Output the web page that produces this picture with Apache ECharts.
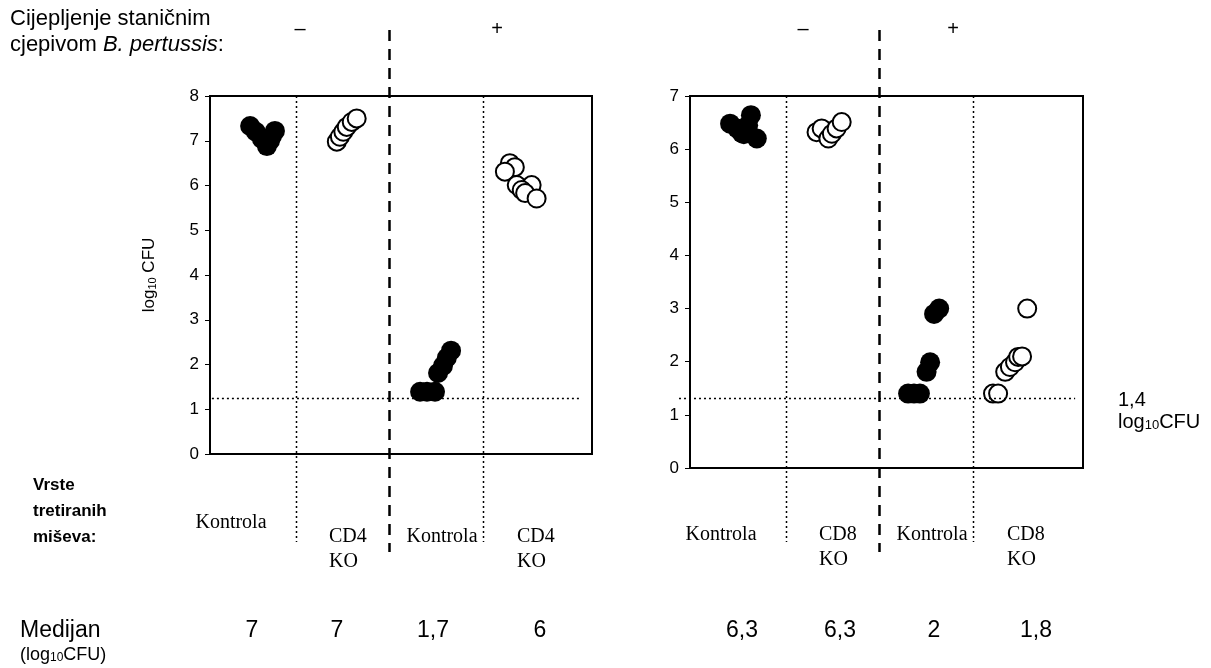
<!DOCTYPE html>
<html lang="hr">
<head>
<meta charset="UTF-8">
<title>log10 CFU</title>
<script src="https://cdn.jsdelivr.net/npm/echarts@6/dist/echarts.min.js"></script>
<style>
    html, body { margin: 0; padding: 0; background: #fff; }
    #chart { width: 1211px; height: 668px; }
</style>
</head>
<body>
<div id="chart"></div>
<script type="text/javascript">
    // x = position across the panel (0-100), y = log10 CFU
    var cd4KontrolaNeg = [[10.5, 7.33], [12.0, 7.20], [13.6, 7.04], [14.9, 6.88], [15.7, 7.0], [17.0, 7.22], [16.2, 7.1]];
    var cd4KoNeg = [[33.2, 6.98], [34.0, 7.09], [34.9, 7.2], [35.8, 7.31], [37.1, 7.42], [38.4, 7.5]];
    var cd4KontrolaPos = [[55.0, 1.39], [56.8, 1.39], [58.9, 1.39], [59.7, 1.81], [61.0, 1.97], [62.0, 2.15], [63.1, 2.31]];
    var cd4KoPos = [[78.5, 6.5], [79.8, 6.41], [77.2, 6.31], [80.3, 6.01], [84.2, 6.01], [81.6, 5.9], [82.5, 5.83], [85.5, 5.71]];

    var cd8KontrolaNeg = [[10.2, 6.48], [12.0, 6.39], [13.7, 6.28], [15.5, 6.64], [14.8, 6.45], [17.0, 6.2], [13.2, 6.3]];
    var cd8KoNeg = [[32.2, 6.32], [33.5, 6.39], [35.2, 6.2], [36.1, 6.29], [37.3, 6.39], [38.6, 6.51]];
    var cd8KontrolaPos = [[55.5, 1.4], [57.0, 1.4], [58.5, 1.4], [60.2, 1.81], [61.1, 1.99], [62.1, 2.9], [63.4, 3.0]];
    var cd8KoPos = [[77.1, 1.4], [78.4, 1.4], [80.2, 1.81], [81.4, 1.9], [82.7, 1.99], [83.5, 2.09], [84.5, 2.1], [85.8, 3.0]];

    var detectLimit = [1.26, 1.32];
    var yMax = [8, 7];
    var groupsLeft = ['Kontrola', 'CD4\nKO', 'Kontrola', 'CD4\nKO'];
    var groupsRight = ['Kontrola', 'CD8\nKO', 'Kontrola', 'CD8\nKO'];
    var medians = ['7', '7', '1,7', '6', '6,3', '6,3', '2', '1,8'];
    var vaccine = ['\u2013', '+', '\u2013', '+'];

    // layout
    var dividers = [[22.5, 46.9, 71.5], [24.4, 48.1, 72.0]];
    var sans = 'Liberation Sans, Arial, sans-serif';
    var serif = 'Liberation Serif, Times New Roman, serif';

    var chart = echarts.init(document.getElementById('chart'));

    function filled(data, idx) {
        return {
            type: 'scatter', xAxisIndex: idx, yAxisIndex: idx, data: data,
            symbolSize: 20, itemStyle: { color: '#000', opacity: 1 }
        };
    }
    function open(data, idx) {
        return {
            type: 'scatter', xAxisIndex: idx, yAxisIndex: idx, data: data,
            symbolSize: 18, itemStyle: { color: '#fff', borderColor: '#000', borderWidth: 2, opacity: 1 }
        };
    }
    function yAxis(idx) {
        return {
            type: 'value', gridIndex: idx, min: 0, max: yMax[idx], interval: 1,
            axisLine: { show: true, lineStyle: { color: '#000', width: 2 } },
            axisTick: { show: true, length: 5, lineStyle: { color: '#000', width: 1 } },
            axisLabel: { color: '#000', fontSize: 17, fontFamily: sans, margin: 11 },
            splitLine: { show: false },
            name: idx === 0 ? '{t|log}{s|10}{t| CFU}' : '',
            nameLocation: 'middle', nameGap: 52, nameRotate: 90,
            nameTextStyle: {
                rich: {
                    t: { fontSize: 17, fontFamily: sans, color: '#000' },
                    s: { fontSize: 11, fontFamily: sans, color: '#000', verticalAlign: 'bottom', padding: [6, 0, 0, 0] }
                }
            }
        };
    }

    chart.setOption({
        animation: false,
        backgroundColor: '#fff',
        grid: [
            { left: 210, top: 96, width: 382, height: 358, show: true, borderColor: '#000', borderWidth: 2 },
            { left: 690, top: 96, width: 393, height: 372, show: true, borderColor: '#000', borderWidth: 2 }
        ],
        xAxis: [
            { type: 'value', gridIndex: 0, min: 0, max: 100, show: false },
            { type: 'value', gridIndex: 1, min: 0, max: 100, show: false }
        ],
        yAxis: [yAxis(0), yAxis(1)],
        series: [
            filled(cd4KontrolaNeg, 0), open(cd4KoNeg, 0), filled(cd4KontrolaPos, 0), open(cd4KoPos, 0),
            filled(cd8KontrolaNeg, 1), open(cd8KoNeg, 1), filled(cd8KontrolaPos, 1), open(cd8KoPos, 1)
        ]
    });

    // decorations placed from axis coordinates
    var g = [];
    function px(idx, x, y) { return chart.convertToPixel({ gridIndex: idx }, [x, y]); }
    function line(x1, y1, x2, y2, dash, w) {
        g.push({ type: 'line', shape: { x1: x1, y1: y1, x2: x2, y2: y2 },
            style: { stroke: '#000', lineWidth: w, lineDash: dash }, z: 5 });
    }
    function text(x, y, str, font, size, align, extra) {
        var st = { x: x, y: y, text: str, fill: '#000', font: (extra || '') + ' ' + size + 'px ' + font,
            align: align || 'left', verticalAlign: 'middle' };
        g.push({ type: 'text', style: st, z: 10 });
        return st;
    }

    [0, 1].forEach(function (i) {
        var top = px(i, 0, yMax[i])[1];
        dividers[i].forEach(function (d, k) {
            var x = Math.round(px(i, d, 0)[0]) + 0.5;
            if (k === 1) line(x, 30, x, 552, [11, 8], 2.5);
            else line(x, top, x, 542, [2, 3], 1.5);
        });
        var ly = Math.round(px(i, 0, detectLimit[i])[1]) + 0.5;
        var a = px(i, i === 0 ? 0.5 : -2.8, 0)[0], b = px(i, i === 0 ? 97 : 98, 0)[0];
        line(a, ly, b, ly, [2, 3], 1.5);
    });

    // header
    g.push({ type: 'text', left: 10, top: 8, style: {
        text: '{n|Cijepljenje staničnim}\n{n|cjepivom }{i|B. pertussis}{n|:}',
        rich: {
            n: { fontSize: 22, fontFamily: sans, fill: '#000', lineHeight: 26 },
            i: { fontSize: 22, fontFamily: sans, fontStyle: 'italic', fill: '#000', lineHeight: 26 }
        }
    } });
    var signX = [300, 497, 803, 953];
    vaccine.forEach(function (s, k) { text(signX[k], 29, s, sans, 20, 'center'); });

    // row labels
    text(33, 485, 'Vrste', sans, 17, 'left', 'bold');
    text(33, 511, 'tretiranih', sans, 17, 'left', 'bold');
    text(33, 537, 'miševa:', sans, 17, 'left', 'bold');

    var groupPos = [[231, 523, 'center'], [329, 537, 'left'], [442, 537, 'center'], [517, 537, 'left'],
                    [721, 535, 'center'], [819, 535, 'left'], [932, 535, 'center'], [1007, 535, 'left']];
    groupsLeft.concat(groupsRight).forEach(function (lbl, k) {
        var p = groupPos[k];
        lbl.split('\n').forEach(function (part, j) {
            text(p[0], p[1] + j * 25, part, serif, 20, p[2]);
        });
    });

    text(20, 631, 'Medijan', sans, 23, 'left');
    g.push({ type: 'text', left: 20, top: 646, style: {
        text: '{n|(log}{s|10}{n|CFU)}',
        rich: {
            n: { fontSize: 18, fontFamily: sans, fill: '#000' },
            s: { fontSize: 12, fontFamily: sans, fill: '#000', verticalAlign: 'bottom', padding: [6, 0, 0, 0] }
        }
    } });
    var medX = [252, 337, 433, 540, 742, 840, 934, 1036];
    medians.forEach(function (m, k) { text(medX[k], 631, m, sans, 23, 'center'); });

    // detection limit note
    text(1118, 400, '1,4', sans, 20, 'left');
    g.push({ type: 'text', left: 1118, top: 412, style: {
        text: '{n|log}{s|10}{n|CFU}',
        rich: {
            n: { fontSize: 20, fontFamily: sans, fill: '#000' },
            s: { fontSize: 13, fontFamily: sans, fill: '#000', verticalAlign: 'bottom', padding: [6, 0, 0, 0] }
        }
    } });

    chart.setOption({ graphic: g });
</script>
</body>
</html>
